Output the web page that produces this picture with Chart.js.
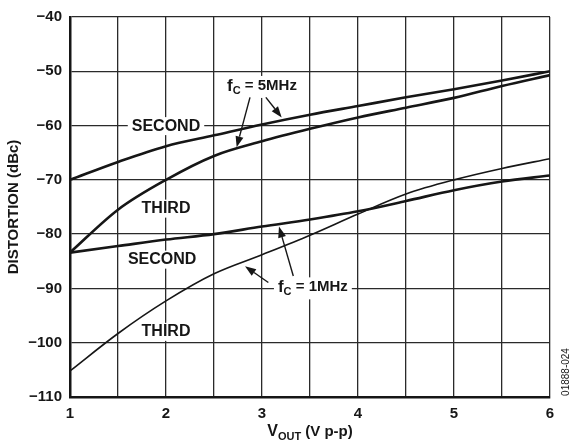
<!DOCTYPE html>
<html>
<head>
<meta charset="utf-8">
<script src="https://cdn.jsdelivr.net/npm/chart.js@4/dist/chart.umd.min.js"></script>
<style>
  html, body { margin: 0; padding: 0; background: #fff; }
  canvas { display: block; }
</style>
</head>
<body>
<canvas id="chart" width="571" height="445"></canvas>
<script>
const vout = [1, 1.5, 2, 2.5, 3, 3.5, 4, 4.5, 5, 5.5, 6];
const second5MHz = [-70, -66.7, -63.8, -61.8, -59.8, -58.0, -56.4, -54.8, -53.3, -51.7, -50.0];
const third5MHz = [-83.4, -75.5, -70.0, -65.6, -62.9, -60.6, -58.5, -56.7, -54.9, -52.7, -50.7];
const second1MHz = [-83.4, -82.2, -81.0, -80.0, -78.6, -77.3, -75.8, -73.9, -71.9, -70.3, -69.2];
const third1MHz = [-105.2, -98.3, -92.3, -87.3, -83.8, -80.2, -76.3, -72.6, -70.0, -67.9, -66.1];

const xTickLabels = [1, 2, 3, 4, 5, 6];
const yTickLabels = [-110, -100, -90, -80, -70, -60, -50, -40];

const INK = '#161616';
const FONT = '"Liberation Sans", Arial, Helvetica, sans-serif';

// text labels placed in data units
const curveLabels = [
  { text: 'SECOND', x: 2.0, y: -60.1 },
  { text: 'THIRD', x: 2.0, y: -75.3 },
  { text: 'SECOND', x: 1.96, y: -84.7 },
  { text: 'THIRD', x: 2.0, y: -98.0 }
];
const freqLabels = [
  { sub: 'C', rest: ' = 5MHz', x: 3.0, y: -52.7 },
  { sub: 'C', rest: ' = 1MHz', x: 3.53, y: -89.8 }
];
const arrows = [
  { from: [2.875, -54.8], to: [2.736, -64.0] },
  { from: [3.04, -54.8], to: [3.205, -58.5] },
  { from: [3.066, -88.9], to: [2.823, -85.9] },
  { from: [3.326, -87.7], to: [3.177, -78.6] }
];

const toPoints = ys => ys.map((y, i) => ({ x: vout[i], y }));

function drawArrow(ctx, x1, y1, x2, y2) {
  const a = Math.atan2(y2 - y1, x2 - x1);
  const len = 11, half = 4;
  const bx = x2 - len * Math.cos(a), by = y2 - len * Math.sin(a);
  ctx.beginPath();
  ctx.moveTo(x1, y1);
  ctx.lineTo(bx, by);
  ctx.lineWidth = 1.4;
  ctx.strokeStyle = INK;
  ctx.stroke();
  ctx.beginPath();
  ctx.moveTo(x2, y2);
  ctx.lineTo(bx + half * Math.sin(a), by - half * Math.cos(a));
  ctx.lineTo(bx - half * Math.sin(a), by + half * Math.cos(a));
  ctx.closePath();
  ctx.fillStyle = INK;
  ctx.fill();
}

const annotate = {
  id: 'annotate',
  afterDatasetsDraw(chart) {
    const { ctx, scales: { x, y }, chartArea } = chart;
    ctx.save();
    ctx.textBaseline = 'middle';

    ctx.font = 'bold 16px ' + FONT;
    ctx.textAlign = 'center';
    curveLabels.forEach(l => {
      const px = x.getPixelForValue(l.x), py = y.getPixelForValue(l.y);
      const w = ctx.measureText(l.text).width;
      ctx.fillStyle = '#fff';
      ctx.fillRect(px - w / 2 - 4, py - 9, w + 8, 18);
      ctx.fillStyle = INK;
      ctx.fillText(l.text, px, py);
    });

    freqLabels.forEach(l => {
      const px = x.getPixelForValue(l.x), py = y.getPixelForValue(l.y);
      ctx.font = 'bold 17px ' + FONT;
      const wf = ctx.measureText('f').width;
      ctx.font = 'bold 11px ' + FONT;
      const ws = ctx.measureText(l.sub).width;
      ctx.font = 'bold 15px ' + FONT;
      const wr = ctx.measureText(l.rest).width;
      const total = wf + ws + wr;
      let cx = px - total / 2;
      ctx.fillStyle = '#fff';
      ctx.fillRect(cx - 4, py - 10, total + 8, 22);
      ctx.fillStyle = INK;
      ctx.textAlign = 'left';
      ctx.font = 'bold 17px ' + FONT;
      ctx.fillText('f', cx, py);
      cx += wf;
      ctx.font = 'bold 11px ' + FONT;
      ctx.fillText(l.sub, cx, py + 5);
      cx += ws;
      ctx.font = 'bold 15px ' + FONT;
      ctx.fillText(l.rest, cx, py);
    });

    arrows.forEach(a => {
      drawArrow(ctx,
        x.getPixelForValue(a.from[0]), y.getPixelForValue(a.from[1]),
        x.getPixelForValue(a.to[0]), y.getPixelForValue(a.to[1]));
    });

    // axis titles
    ctx.fillStyle = INK;
    ctx.save();
    ctx.translate(14, (chartArea.top + chartArea.bottom) / 2);
    ctx.rotate(-Math.PI / 2);
    ctx.textAlign = 'center';
    ctx.font = 'bold 15px ' + FONT;
    ctx.fillText('DISTORTION (dBc)', 0, 0);
    ctx.restore();

    const parts = [['V', 'bold 16px ', 0], ['OUT', 'bold 11px ', 5], [' (V p-p)', 'bold 15px ', 0]];
    const widths = parts.map(p => { ctx.font = p[1] + FONT; return ctx.measureText(p[0]).width; });
    let tx = (chartArea.left + chartArea.right) / 2 - widths.reduce((s, w) => s + w, 0) / 2;
    ctx.textAlign = 'left';
    parts.forEach((p, i) => {
      ctx.font = p[1] + FONT;
      ctx.fillText(p[0], tx, 432 + p[2]);
      tx += widths[i];
    });

    ctx.save();
    ctx.translate(566, 372);
    ctx.rotate(-Math.PI / 2);
    ctx.textAlign = 'center';
    ctx.font = '10px ' + FONT;
    ctx.fillText('01888-024', 0, 0);
    ctx.restore();

    ctx.restore();
  }
};

const line = (label, ys, width) => ({
  label,
  data: toPoints(ys),
  borderColor: INK,
  borderWidth: width,
  pointRadius: 0,
  fill: false,
  cubicInterpolationMode: 'monotone'
});

new Chart(document.getElementById('chart'), {
  type: 'line',
  data: {
    datasets: [
      line('SECOND 5MHz', second5MHz, 2.6),
      line('THIRD 5MHz', third5MHz, 2.6),
      line('SECOND 1MHz', second1MHz, 2.6),
      line('THIRD 1MHz', third1MHz, 1.6)
    ]
  },
  options: {
    responsive: false,
    animation: false,
    layout: { padding: { top: 14, right: 21, left: 0, bottom: 0 } },
    plugins: { legend: { display: false }, tooltip: { enabled: false } },
    scales: {
      x: {
        type: 'linear',
        min: 1,
        max: 6,
        afterFit: s => { s.height = 48; },
        afterBuildTicks: s => {
          const t = [];
          for (let v = 1; v <= 6.001; v += 0.5) t.push({ value: v });
          s.ticks = t;
        },
        ticks: {
          padding: 8,
          color: INK,
          font: { family: FONT, size: 15, weight: 'bold' },
          callback: v => xTickLabels.includes(v) ? String(v) : ''
        },
        grid: { color: '#2a2a2a', lineWidth: 1.3, drawTicks: false },
        border: { display: true, color: INK, width: 2.5 }
      },
      y: {
        min: -110,
        max: -40,
        afterFit: s => { s.width = 70; },
        afterBuildTicks: s => { s.ticks = yTickLabels.map(v => ({ value: v })); },
        ticks: {
          padding: 8,
          color: INK,
          font: { family: FONT, size: 15, weight: 'bold' },
          callback: v => (v < 0 ? '\u2212' : '') + Math.abs(v)
        },
        grid: { color: '#2a2a2a', lineWidth: 1.3, drawTicks: false },
        border: { display: true, color: INK, width: 2.5 }
      }
    }
  },
  plugins: [annotate]
});
</script>
</body>
</html>
